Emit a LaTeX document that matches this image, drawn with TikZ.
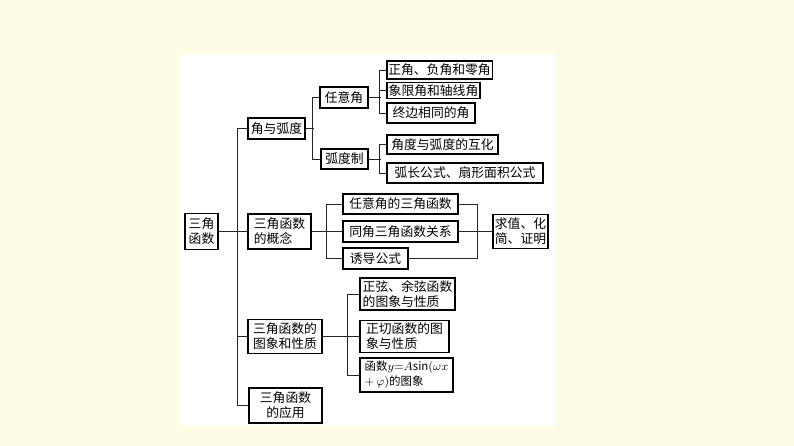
\documentclass[tikz,border=0pt]{standalone}
\usepackage{fontspec}
\setmainfont{Noto Sans CJK SC}
\definecolor{cream}{HTML}{FFFCE6}
\begin{document}
\begin{tikzpicture}[x=0.75pt,y=-0.75pt,
  box/.style={draw=black,line width=0.8pt,fill=white,inner sep=1pt,font=\fontsize{9.6}{11.4}\selectfont},
  B/.style 2 args={box,minimum width=#1*0.75pt,minimum height=#2*0.75pt},
  ln/.style={draw=black!85,line width=0.65pt}]
\fill[cream] (0,0) rectangle (794,446);
\fill[white] (180,54) rectangle (555,426);
% nodes
\node[B={33}{36},align=center] (root) at (201.5,231.5) {三角\\函数};
\node[B={57}{21}] (jy) at (276.5,128.5) {角与弧度};
\node[B={48}{21}] (ry) at (344,97.5) {任意角};
\node[B={47}{20}] (hd) at (344.5,159) {弧度制};
\node[B={105}{18}] (z1) at (439.5,70) {正角、负角和零角};
\node[B={93}{16}] (z2) at (433.5,90.5) {象限角和轴线角};
\node[B={88}{20}] (z3) at (431,113) {终边相同的角};
\node[B={111}{19}] (h1) at (442.5,144.5) {角度与弧度的互化};
\node[B={156}{20}] (h2) at (465,173) {弧长公式、扇形面积公式};
\node[B={63}{35},align=left] (gn) at (279.5,231.5) {三角函数\\的概念};
\node[B={115}{20}] (c1) at (400.5,204) {任意角的三角函数};
\node[B={115}{21}] (c2) at (400.5,231.5) {同角三角函数关系};
\node[B={65}{21}] (c3) at (375.5,258.5) {诱导公式};
\node[B={55}{34},align=left] (qz) at (520.5,231.5) {求值、化\\简、证明};
\node[B={74}{34},align=center] (xz) at (285,336.5) {三角函数的\\图象和性质};
\node[B={95}{32},align=left] (t1) at (407.5,294) {正弦、余弦函数\\的图象与性质};
\node[B={89}{32},align=left] (t2) at (404.5,336.5) {正切函数的图\\象与性质};
\node[B={93}{34},align=left,font=\fontsize{8.6}{11.4}\selectfont] (t3) at (406.5,375) {函数$y{=}A\mathrm{sin}(\omega x$\\$+\,\varphi)$的图象};
\node[B={73}{35},align=center] (yy) at (285.5,405.5) {三角函数\\的应用};
% connectors
\draw[ln] (root.east) -- (gn.west);
\draw[ln] (jy.west) -- +(-10,0) |- (yy.west);
\draw[ln] (xz.west) -- +(-10,0);
\draw[ln] (jy.east) -- +(8,0);
\draw[ln] (ry.west) -- +(-7,0) |- (hd.west);
\draw[ln] (ry.east) -- +(12,0);
\draw[ln] (z1.west) -- +(-7,0) |- (z3.west);
\draw[ln] (z2.west) -- +(-7,0);
\draw[ln] (hd.east) -- +(12,0);
\draw[ln] (h1.west) -- +(-7,0) |- (h2.west);
\draw[ln] (gn.east) -- (c2.west);
\draw[ln] (c1.west) -- +(-16,0) |- (c3.west);
\draw[ln] (c1.east) -- +(19,0) |- (c3.east);
\draw[ln] (c2.east) -- (qz.west);
\draw[ln] (xz.east) -- (t2.west);
\draw[ln] (t1.west) -- +(-12,0) |- (t3.west);
\end{tikzpicture}
\end{document}
